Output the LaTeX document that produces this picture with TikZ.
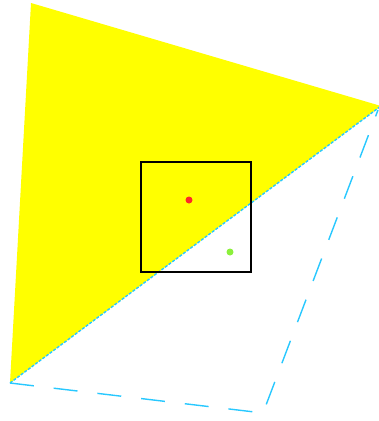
\documentclass[tikz,border=0pt]{standalone}
\usetikzlibrary{positioning}

\definecolor{lightcyan}{RGB}{40,200,255}
\definecolor{pureyellow}{RGB}{255,255,0}
\definecolor{dotred}{RGB}{255,40,40}
\definecolor{dotgreen}{RGB}{140,240,60}

\tikzset{
    cyanline/.style={draw=lightcyan, line width=1.4pt},
    dot/.style={circle, inner sep=0pt, minimum size=7pt}
}

\begin{document}
\begin{tikzpicture}[x=1pt, y=-1pt]
    \useasboundingbox (0,0) rectangle (379,421);

    \coordinate (top) at (31,3);
    \coordinate (right) at (381,106);
    \coordinate (left) at (10,383);
    \coordinate (bottom) at (263,413);

    % yellow triangle
    \fill[pureyellow] (top) -- (right) -- (left) -- cycle;

    % dashed quadrilateral
    \draw[cyanline, dash pattern=on 24pt off 20pt] (left) -- (bottom) -- (378,110);
    \draw[cyanline, dash pattern=on 3pt off 1.5pt] (left) -- (right);

    % box and points
    \draw[line width=1.5pt] (141,162) rectangle (251,272);
    \node[dot, fill=dotred] (red) at (189,200) {};
    \node[dot, fill=dotgreen] (green) at (230,252) {};
\end{tikzpicture}
\end{document}
